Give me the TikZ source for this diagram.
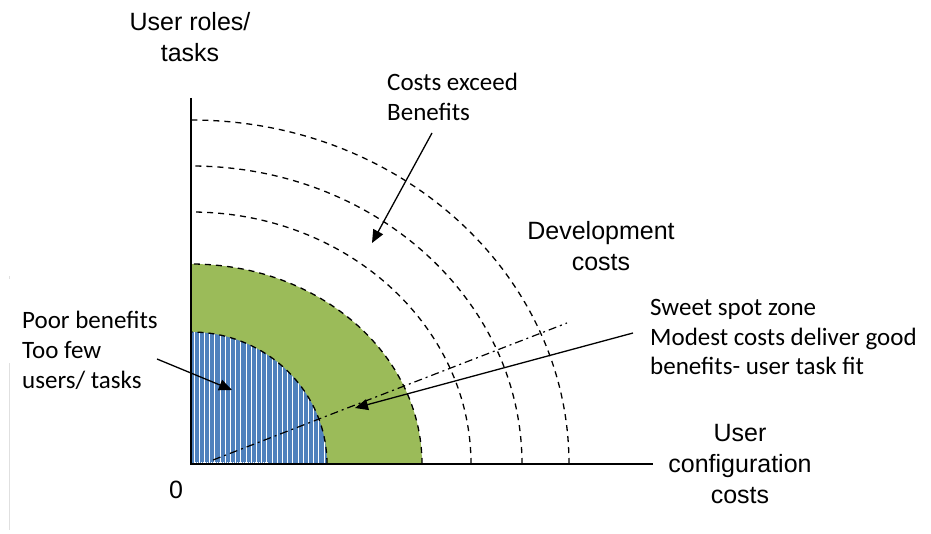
\documentclass[tikz,border=0pt]{standalone}
\usepackage{fontspec}
\setmainfont{Liberation Sans}
\newfontfamily\calibri{Carlito}
\usetikzlibrary{arrows.meta}

\definecolor{zoneblue}{RGB}{79,129,189}
\definecolor{zonegreen}{RGB}{155,187,89}

\tikzset{
  costarc/.style={line width=1.3pt, dash pattern=on 6pt off 5pt},
  fitline/.style={line width=1.2pt, dash pattern=on 8pt off 4pt on 2pt off 4pt},
  pointer/.style={line width=1.3pt, -{Triangle[length=13pt,width=11pt]}},
  axislabel/.style={font=\fontsize{25}{31}\selectfont, align=center, inner sep=0pt},
  note/.style={font=\calibri\fontsize{25}{30}\selectfont, align=left, inner sep=0pt},
}

\begin{document}
\begin{tikzpicture}[x=1pt,y=1pt]
    \useasboundingbox (-191,-69) rectangle (740,464);

    % Zones
    \fill[zonegreen] (0,0) -- (231,0) arc[start angle=0, end angle=90, x radius=231, y radius=200] -- cycle;
    \fill[zoneblue] (0,0) -- (136,0) arc[start angle=0, end angle=90, x radius=136, y radius=132] -- cycle;
    \begin{scope}
      \clip (0,0) -- (136,0) arc[start angle=0, end angle=90, x radius=136, y radius=132] -- cycle;
      \foreach \x in {3,8.2,...,136}
        \draw[white, line width=0.8pt] (\x,0) -- (\x,132);
    \end{scope}
    \draw[white, densely dotted, line width=1pt] (4,2) -- (77,2);

    % Cost curves
    \foreach \rx/\ry in {136/132, 231/200, 280/252, 331/298, 378/344}
      \draw[costarc] (\rx,0) arc[start angle=0, end angle=90, x radius=\rx, y radius=\ry];

    % Axes
    \coordinate (origin) at (0,0);
    \coordinate (ytop) at (0,366);
    \coordinate (xend) at (462,0);
    \draw[line width=1.5pt] (ytop) -- (origin) -- (xend);
    \draw[black!12] (-182,101) -- (-182,-66);
    \draw[black!12] (-182,188) -- (-182,185);

    % Fit line
    \coordinate (fit1) at (22,4);
    \coordinate (fit2) at (376,141);
    \draw[fitline] (fit1) -- (fit2);

    % Text (base = last line)
    \node[axislabel, anchor=base] (yname) at (-1,402) {User roles/\\tasks};
    \node[axislabel, anchor=base] (dev) at (410,193) {Development\\costs};
    \node[axislabel, anchor=base] (xname) at (549,-39) {User\\configuration\\costs};
    \node[axislabel, anchor=base] (zero) at (-15,-34) {0};
    \node[note, anchor=base west] (exceed) at (196,343) {Costs exceed\\Benefits};
    \node[note, anchor=base west] (sweet) at (459,89) {Sweet spot zone\\Modest costs deliver good\\benefits- user task fit};
    \node[note, anchor=base west] (poor) at (-169,76) {Poor benefits\\Too few\\users/ tasks};

    % Arrow ends
    \coordinate (exceedfrom) at (241,331);
    \coordinate (exceedto) at (181,221);
    \coordinate (sweetfrom) at (442,131);
    \coordinate (sweetto) at (164,56);
    \coordinate (poorfrom) at (-34,105);
    \coordinate (poorto) at (41,74);

    % Connection
    \draw[pointer] (exceedfrom) -- (exceedto);
    \draw[pointer] (sweetfrom) -- (sweetto);
    \draw[pointer] (poorfrom) -- (poorto);
\end{tikzpicture}
\end{document}
